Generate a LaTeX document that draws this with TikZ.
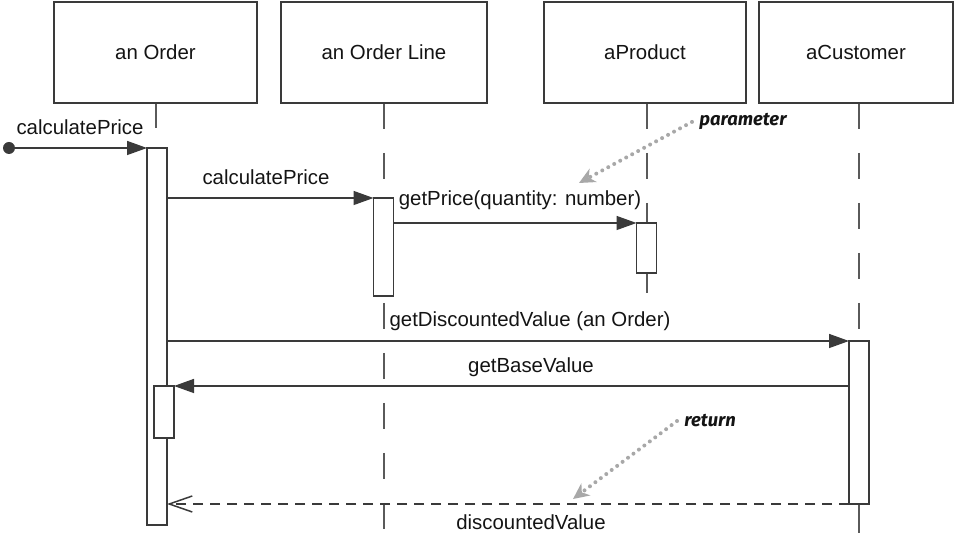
\documentclass[tikz,border=0pt]{standalone}
\usepackage{fontspec}
\setmainfont{Liberation Sans}
\newfontfamily\notefont{Fira Sans}
\usetikzlibrary{arrows.meta,backgrounds}
\definecolor{linec}{HTML}{3A3A3A}
\definecolor{lifec}{HTML}{5A5A5A}
\definecolor{notec}{HTML}{A8A8A8}
\definecolor{txt}{HTML}{141414}
\begin{document}
\begin{tikzpicture}[x=0.5pt,y=-0.5pt,
  font=\fontsize{10.2pt}{12pt}\selectfont,
  objbox/.style={draw=linec, line width=0.75pt, minimum height=50.5pt, inner sep=0pt, outer sep=0pt, text=txt},
  act/.style={draw=linec, fill=white, line width=0.75pt, minimum width=10pt, inner sep=0pt, outer sep=0pt},
  lifeline/.style={draw=lifec, line width=1pt, dash pattern=on 13pt off 12pt},
  lifesolid/.style={draw=lifec, line width=1pt},
  msg/.style={draw=linec, line width=0.75pt, -{Triangle[length=10pt,width=7pt]}},
  ret/.style={draw=linec, line width=0.75pt, dash pattern=on 5pt off 3.5pt, -{Straight Barb[length=11.5pt,width=8pt]}},
  lbl/.style={anchor=base, inner sep=0pt, text=txt},
  note/.style={anchor=base west, inner sep=0pt, text=txt, font=\notefont\bfseries\itshape\fontsize{9.2pt}{10pt}\selectfont},
  notearrow/.style={draw=notec, line width=2pt, line cap=round, dash pattern=on 0pt off 3.4pt, -{Stealth[length=8pt,width=7.5pt,inset=2.5pt]}},
  startdot/.style={circle, fill=linec, minimum size=6pt, inner sep=0pt}
]
\useasboundingbox (0,0) rectangle (955,533);

% object boxes
\node[objbox, minimum width=101.5pt] (o)  at (155.5,52.5) {an Order};
\node[objbox, minimum width=103pt]   (ol) at (384,52.5)   {an Order Line};
\node[objbox, minimum width=101pt]   (p)  at (645,52.5)   {aProduct};
\node[objbox, minimum width=97pt]    (c)  at (856,52.5)   {aCustomer};

% activations
\node[act, minimum height=188.5pt] (a1) at (157,336.5) {};
\node[act, minimum height=49pt]    (a2) at (383.5,247) {};
\node[act, minimum height=25pt]    (a3) at (646.5,248) {};
\node[act, minimum height=81.5pt]  (a4) at (859,422.5) {};
\node[act, minimum height=26pt]    (a5) at (164,412)   {};

% lifeline ends
\coordinate (oend)  at (156,128);
\coordinate (olend) at (383.5,533);
\coordinate (pend)  at (646.5,293);
\coordinate (cend)  at (859,533);

\begin{scope}[on background layer]
  \draw[lifesolid] (o.south -| oend) -- (oend);
  \draw[lifeline] (ol.south -| olend) -- (olend);
  \draw[lifeline] (p.south -| a3) -- (a3.north);
  \draw[lifesolid] (a3.south) -- (pend);
  \draw[lifeline] (c.south -| a4) -- (a4.north);
  \draw[lifesolid] (a4.south) -- (cend);
\end{scope}

% messages
\node[startdot] (start) at (9,148) {};
\draw[msg] (start) -- (a1.north west);
\draw[msg] (a1.east |- a2.north) -- (a2.north west);
\draw[msg] (a2.east |- a3.north) -- (a3.north west);
\draw[msg] (a1.east |- a4.north) -- (a4.north west);
\draw[msg] (a4.west |- a5.north) -- (a5.north east);
\draw[ret] (a4.south west) -- (a1.east |- a4.south);

% labels
\node[lbl] (l1) at (80,135)  {calculatePrice};
\node[lbl] (l2) at (266,185) {calculatePrice};
\node[lbl] (l3) at (520,206) {getPrice(quantity: number)};
\node[lbl] (l4) at (530,327) {getDiscountedValue (an Order)};
\node[lbl] (l5) at (531,373) {getBaseValue};
\node[lbl] (l6) at (531,530) {discountedValue};

% notes
\node[note] (pnote) at (699,126) {parameter};
\coordinate (ptip) at (579,183);
\draw[notearrow] ([xshift=-3.5pt]pnote.west) -- (ptip);
\node[note] (rnote) at (684,427) {return};
\coordinate (rtip) at (573,499);
\draw[notearrow] ([xshift=-3.5pt]rnote.west) -- (rtip);
\end{tikzpicture}
\end{document}
